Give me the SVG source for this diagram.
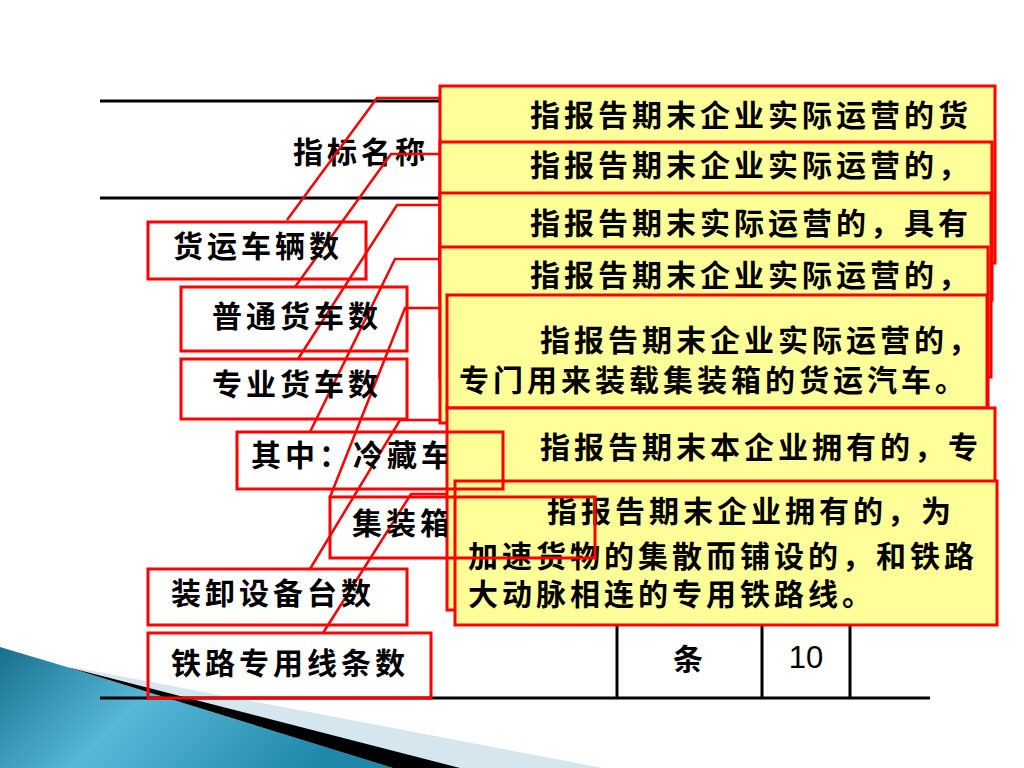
<svg xmlns="http://www.w3.org/2000/svg" width="1024" height="768" viewBox="0 0 1024 768">
<style>
.tl{stroke:#000;stroke-width:3;fill:none}
.cn{stroke:#FF0000;stroke-width:2.5;fill:none}
.co{fill:#FFFF99;stroke:#FF0000;stroke-width:3}
.bx{fill:none;stroke:#FF0000;stroke-width:3}
.t{font-family:"Liberation Sans","Noto Sans CJK SC",sans-serif;font-size:30px;font-weight:bold;fill:#000;letter-spacing:4px}
.n{font-family:"Liberation Sans",Arial,sans-serif;font-size:31px;fill:#000}
</style>
<defs>
<linearGradient id="bg" x1="0" y1="0" x2="1" y2="0.3">
<stop offset="0" stop-color="#17708C"/>
<stop offset="0.45" stop-color="#58B8D8"/>
<stop offset="1" stop-color="#1F88AA"/>
</linearGradient>
<clipPath id="cut"><rect x="0" y="0" width="447" height="768"/></clipPath>
</defs>
<rect width="1024" height="768" fill="#FFFFFF"/>
<g id="decor">
<polygon points="67,666 603,768 393,768" fill="#D5E6EF"/>
<polygon points="0,647 67,667 393,768 0,768" fill="url(#bg)"/>
<polygon points="67,667 460,768 393,768" fill="#000"/>
</g>
<g id="table">
<line class="tl" x1="100" y1="101" x2="440" y2="101"/>
<line class="tl" x1="100" y1="198" x2="440" y2="198"/>
<line class="tl" x1="100" y1="698" x2="930" y2="698"/>
<line class="tl" x1="617" y1="600" x2="617" y2="698"/>
<line class="tl" x1="762" y1="600" x2="762" y2="698"/>
<line class="tl" x1="850" y1="600" x2="850" y2="698"/>
<text class="t" x="293" y="163">指标名称</text>
<text class="t" x="690" y="670" text-anchor="middle" letter-spacing="0">条</text>
<text class="n" x="806" y="668" text-anchor="middle">10</text>
</g>
<g id="connectors">
<polyline class="cn" points="287,220 377,98 440,98"/>
<polyline class="cn" points="295,287 391,154 440,154"/>
<polyline class="cn" points="298,359 397,205 440,205"/>
<polyline class="cn" points="310,432 395,259 440,259"/>
<polyline class="cn" points="330,497 405,308 447,308"/>
<polyline class="cn" points="310,569 400,420 445,420"/>
<polyline class="cn" points="323,633 411,494 455,494"/>
</g>
<g id="callout1"><rect class="co" x="440" y="86" width="555" height="177"/><text class="t" x="530" y="126">指报告期末企业实际运营的货</text></g>
<g id="callout2"><rect class="co" x="440" y="142" width="552" height="158"/><text class="t" x="530" y="176">指报告期末企业实际运营的，</text></g>
<g id="callout3"><rect class="co" x="440" y="193" width="551" height="184"/><text class="t" x="530" y="234">指报告期末实际运营的，具有</text></g>
<g id="callout4"><rect class="co" x="440" y="247" width="548" height="176"/><text class="t" x="530" y="286">指报告期末企业实际运营的，</text></g>
<g id="callout5"><rect class="co" x="447" y="295" width="540" height="113"/><text class="t" x="540" y="351">指报告期末企业实际运营的，</text><text class="t" x="459" y="391">专门用来装载集装箱的货运汽车。</text></g>
<g id="callout6"><rect class="co" x="447" y="408" width="548" height="202"/><text class="t" x="540" y="458">指报告期末本企业拥有的，专</text></g>
<g id="callout7"><rect class="co" x="455" y="481" width="542" height="144"/><text class="t" x="547" y="522">指报告期末企业拥有的，为</text><text class="t" x="468" y="567">加速货物的集散而铺设的，和铁路</text><text class="t" x="468" y="605">大动脉相连的专用铁路线。</text></g>
<g id="label1"><rect class="bx" x="148" y="222" width="218" height="57"/><text class="t" x="173" y="257">货运车辆数</text></g>
<g id="label2"><rect class="bx" x="181" y="287" width="226" height="64"/><text class="t" x="212" y="327">普通货车数</text></g>
<g id="label3"><rect class="bx" x="181" y="359" width="226" height="60"/><text class="t" x="212" y="395">专业货车数</text></g>
<g id="label4"><rect class="bx" x="237" y="432" width="266" height="57"/><text class="t" x="251" y="466" clip-path="url(#cut)">其中：冷藏车</text></g>
<g id="label5"><rect class="bx" x="330" y="497" width="265" height="61"/><text class="t" x="352" y="534" clip-path="url(#cut)">集装箱</text></g>
<g id="label6"><rect class="bx" x="148" y="569" width="259" height="56"/><text class="t" x="171" y="604">装卸设备台数</text></g>
<g id="label7"><rect class="bx" x="148" y="633" width="283" height="65"/><text class="t" x="171" y="674">铁路专用线条数</text></g>
</svg>
